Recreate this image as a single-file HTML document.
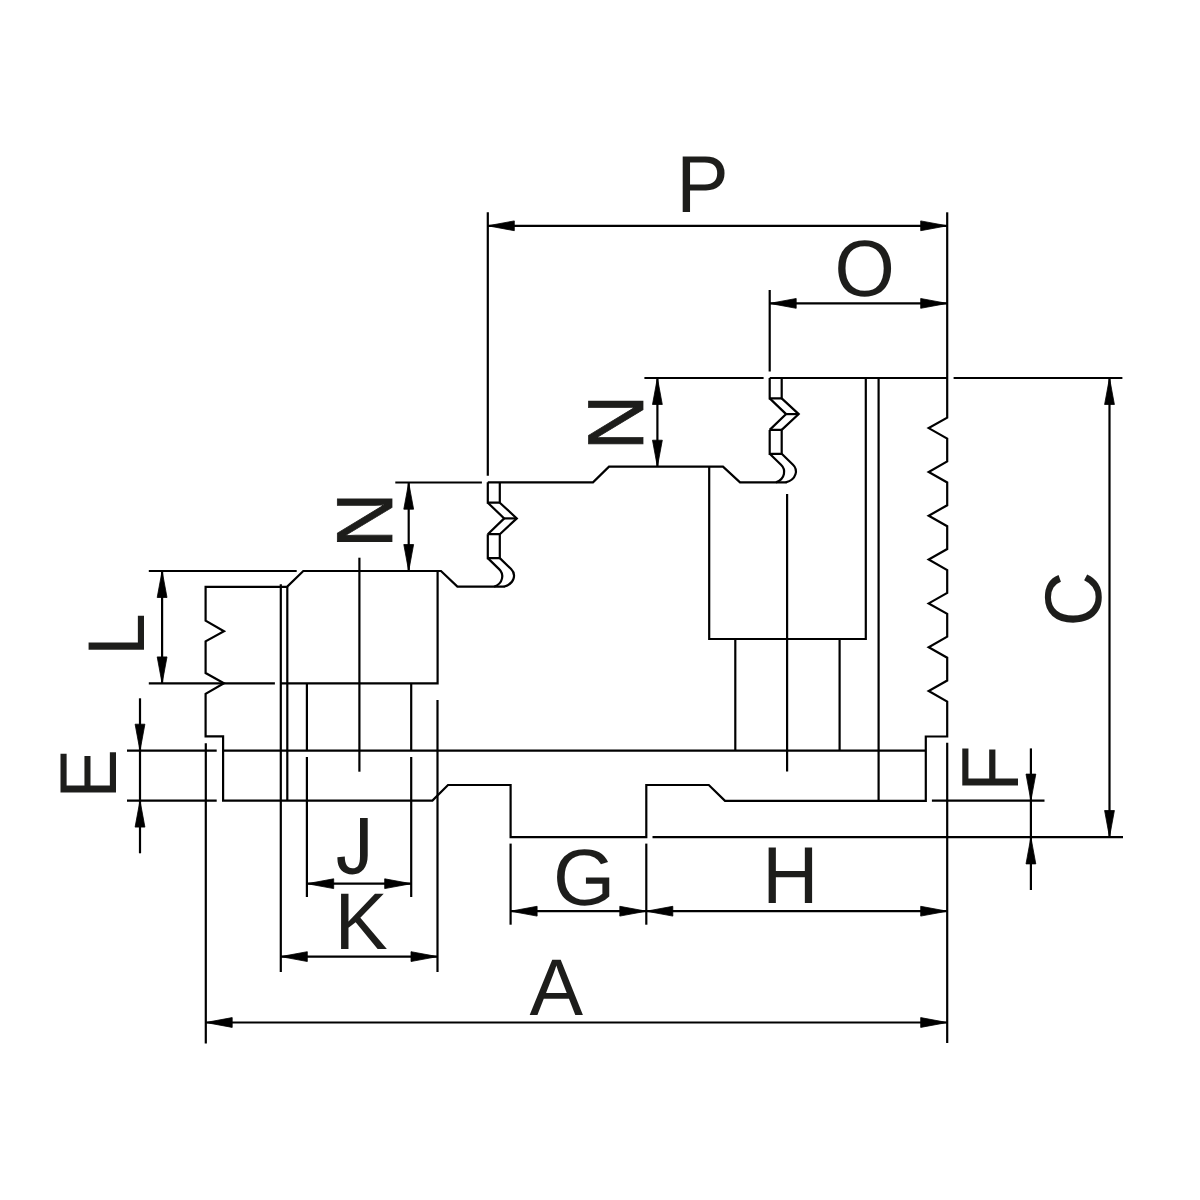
<!DOCTYPE html>
<html><head><meta charset="utf-8"><title>Jaw drawing</title>
<style>html,body{margin:0;padding:0;background:#fff;width:1200px;height:1200px;overflow:hidden}svg{display:block}</style></head>
<body><svg width="1200" height="1200" viewBox="0 0 1200 1200">
<rect width="1200" height="1200" fill="#fff"/>
<g fill="none" stroke="#000" stroke-width="2.2" stroke-linejoin="miter" stroke-linecap="butt">
<line x1="487.8" y1="212.3" x2="487.8" y2="475.8"/>
<line x1="947.2" y1="212.3" x2="947.2" y2="378"/>
<line x1="487.8" y1="225.8" x2="947.2" y2="225.8"/>
<line x1="769.7" y1="290" x2="769.7" y2="371.5"/>
<line x1="769.7" y1="303.4" x2="947.2" y2="303.4"/>
<line x1="644.4" y1="378" x2="763.6" y2="378"/>
<line x1="769.7" y1="378" x2="947.2" y2="378"/>
<line x1="953.6" y1="378" x2="1122.4" y2="378"/>
<line x1="1109.5" y1="378" x2="1109.5" y2="837"/>
<line x1="652.5" y1="837.2" x2="1123" y2="837.2"/>
<line x1="657.4" y1="378" x2="657.4" y2="466.7"/>
<line x1="504.2" y1="518.4" x2="516.8" y2="518.4"/>
<line x1="786.1" y1="414.1" x2="798.7" y2="414.1"/>
<line x1="395.3" y1="482.5" x2="481.9" y2="482.5"/>
<line x1="148.8" y1="571" x2="296.7" y2="571"/>
<line x1="408.7" y1="482.7" x2="408.7" y2="571"/>
<line x1="162.1" y1="571" x2="162.1" y2="683.4"/>
<line x1="148.8" y1="683.4" x2="274.9" y2="683.4"/>
<line x1="280.8" y1="584.3" x2="280.8" y2="972"/>
<line x1="287.3" y1="586.8" x2="287.3" y2="800.6"/>
<line x1="359.4" y1="557.7" x2="359.4" y2="771.7"/>
<line x1="306.9" y1="683.3" x2="306.9" y2="750.7"/>
<line x1="306.9" y1="757" x2="306.9" y2="897"/>
<line x1="411.2" y1="683.3" x2="411.2" y2="750.7"/>
<line x1="411.2" y1="757" x2="411.2" y2="897"/>
<line x1="437.5" y1="700" x2="437.5" y2="972"/>
<line x1="127" y1="750.7" x2="216.7" y2="750.7"/>
<line x1="223.1" y1="750.7" x2="925.8" y2="750.7"/>
<line x1="127" y1="800.6" x2="216.7" y2="800.6"/>
<line x1="140" y1="698.3" x2="140" y2="853.3"/>
<line x1="205.8" y1="743.2" x2="205.8" y2="1043.6"/>
<line x1="307.2" y1="883.7" x2="411.2" y2="883.7"/>
<line x1="280.8" y1="956.6" x2="437.5" y2="956.6"/>
<line x1="510.6" y1="843.6" x2="510.6" y2="924.7"/>
<line x1="646.3" y1="843.6" x2="646.3" y2="924.7"/>
<line x1="510.6" y1="911.2" x2="947.2" y2="911.2"/>
<line x1="205.7" y1="1022.5" x2="947.2" y2="1022.5"/>
<line x1="947.2" y1="742.8" x2="947.2" y2="1043"/>
<line x1="735.3" y1="639" x2="735.3" y2="750.7"/>
<line x1="839.6" y1="639" x2="839.6" y2="750.7"/>
<line x1="878.6" y1="378" x2="878.6" y2="800.8"/>
<line x1="787.1" y1="494" x2="787.1" y2="771.6"/>
<line x1="931.9" y1="800.6" x2="1044.5" y2="800.6"/>
<line x1="1030.9" y1="748.4" x2="1030.9" y2="890"/>
<polyline points="499.80,482.30 499.80,502.70 487.80,502.70 487.80,482.30"/>
<polyline points="487.80,502.70 504.20,518.40 487.80,534.20"/>
<polyline points="499.80,502.70 516.80,518.40 499.80,534.20"/>
<polyline points="487.80,534.20 499.80,534.20 499.80,558.10 487.80,558.10 487.80,534.20"/>
<polyline points="781.70,378.00 781.70,398.40 769.70,398.40 769.70,378.00"/>
<polyline points="769.70,398.40 786.10,414.10 769.70,429.90"/>
<polyline points="781.70,398.40 798.70,414.10 781.70,429.90"/>
<polyline points="769.70,429.90 781.70,429.90 781.70,453.80 769.70,453.80 769.70,429.90"/>
<polyline points="487.80,482.30 593.00,482.30 609.00,466.70 723.00,466.70 740.00,482.40 786.50,482.40"/>
<polyline points="504.50,586.60 457.40,586.60 441.00,571.00 303.30,571.00 287.00,586.80 205.60,586.80 205.60,620.60 224.00,631.20 205.60,641.30 205.60,673.00 224.00,683.30 205.60,693.80 205.60,736.40 223.10,736.40 223.10,800.60 432.40,800.60 448.00,785.00 510.60,785.00 510.60,837.20 646.30,837.20 646.30,785.00 708.80,785.00 725.00,800.80 925.80,800.80 925.80,736.50 947.20,736.50 947.20,701.52 928.70,691.02 947.20,680.52 947.20,657.70 928.70,647.20 947.20,636.70 947.20,613.88 928.70,603.38 947.20,592.88 947.20,570.06 928.70,559.56 947.20,549.06 947.20,526.24 928.70,515.74 947.20,505.24 947.20,482.42 928.70,471.92 947.20,461.42 947.20,438.60 928.70,428.10 947.20,417.60 947.20,378.00"/>
<polyline points="437.60,571.00 437.60,683.30 281.00,683.30"/>
<polyline points="709.20,466.80 709.20,639.00 865.80,639.00 865.80,378.00"/>
<path d="M487.80,558.10 L499.10,569.10 C504.10,573.80 503.60,583.30 494.10,586.70"/>
<path d="M499.80,558.10 L511.10,569.00 C516.10,573.80 515.10,583.80 503.80,586.70"/>
<path d="M769.70,453.80 L781.00,464.80 C786.00,469.50 785.50,479.00 776.00,482.40"/>
<path d="M781.70,453.80 L793.00,464.70 C798.00,469.50 797.00,479.50 785.70,482.40"/>
</g>
<g fill="#000" stroke="#000" stroke-width="0.8" stroke-linejoin="round"><path d="M487.80,225.80 L514.30,220.90 L514.30,230.70Z"/><path d="M947.20,225.80 L920.70,220.90 L920.70,230.70Z"/><path d="M769.70,303.40 L796.20,298.50 L796.20,308.30Z"/><path d="M947.20,303.40 L920.70,298.50 L920.70,308.30Z"/><path d="M1109.50,378.00 L1104.60,404.50 L1114.40,404.50Z"/><path d="M1109.50,837.00 L1104.60,810.50 L1114.40,810.50Z"/><path d="M657.40,378.00 L652.50,404.50 L662.30,404.50Z"/><path d="M657.40,466.70 L652.50,440.20 L662.30,440.20Z"/><path d="M408.70,482.70 L403.80,509.20 L413.60,509.20Z"/><path d="M408.70,571.00 L403.80,544.50 L413.60,544.50Z"/><path d="M162.10,571.00 L157.20,597.50 L167.00,597.50Z"/><path d="M162.10,683.40 L157.20,656.90 L167.00,656.90Z"/><path d="M140.00,750.70 L135.10,724.20 L144.90,724.20Z"/><path d="M140.00,800.60 L135.10,827.10 L144.90,827.10Z"/><path d="M307.20,883.70 L333.70,878.80 L333.70,888.60Z"/><path d="M411.20,883.70 L384.70,878.80 L384.70,888.60Z"/><path d="M280.80,956.60 L307.30,951.70 L307.30,961.50Z"/><path d="M437.50,956.60 L411.00,951.70 L411.00,961.50Z"/><path d="M510.60,911.20 L537.10,906.30 L537.10,916.10Z"/><path d="M646.30,911.20 L619.80,906.30 L619.80,916.10Z"/><path d="M646.30,911.20 L672.80,906.30 L672.80,916.10Z"/><path d="M947.20,911.20 L920.70,906.30 L920.70,916.10Z"/><path d="M205.70,1022.50 L232.20,1017.60 L232.20,1027.40Z"/><path d="M947.20,1022.50 L920.70,1017.60 L920.70,1027.40Z"/><path d="M1030.90,800.60 L1026.00,774.10 L1035.80,774.10Z"/><path d="M1030.90,837.40 L1026.00,863.90 L1035.80,863.90Z"/></g>
<g fill="#1d1d1b" style="text-rendering:geometricPrecision" font-family="'Liberation Sans', sans-serif" font-size="80">
<text transform="matrix(0.9824,0,0,1.0082,676.29,212.23)">P</text>
<text transform="matrix(0.9689,0,0,0.9978,834.49,295.59)">O</text>
<text transform="matrix(1.0036,0,0,1.0036,529.56,1014.63)">A</text>
<text transform="matrix(1.0001,0,0,0.9997,553.12,904.55)">G</text>
<text transform="matrix(0.9984,0,0,1.0048,334.54,948.71)">K</text>
<text transform="matrix(0.9724,0,0,1.0096,762.14,903.39)">H</text>
<text transform="matrix(0,-0.9247,1.0090,0,115.71,798.62)">E</text>
<text transform="matrix(0,-0.9624,1.0066,0,144.35,656.05)">L</text>
<text transform="matrix(0,-0.9489,1.0050,0,1101.42,626.60)">C</text>
<text transform="matrix(0,-0.9473,1.0127,0,1018.03,791.77)">F</text>
<text transform="matrix(0,-0.9539,0.9889,0,642.70,450.10)" stroke="#1d1d1b" stroke-width="0.8">N</text>
<text transform="matrix(0,-0.9528,0.9936,0,392.22,547.76)" stroke="#1d1d1b" stroke-width="0.8">N</text>
<path d="M360,818 L367.7,818 L367.7,855.5 C367.7,867.5 361.5,874.4 352.5,874.4 C343,874.4 337.4,868.5 337.4,858.5 L337.4,857.3 L344.8,856.5 C344.8,864 347.3,868.3 352.5,868.3 C358,868.3 360,864.8 360,856 Z"/>
</g>
</svg></body></html>
